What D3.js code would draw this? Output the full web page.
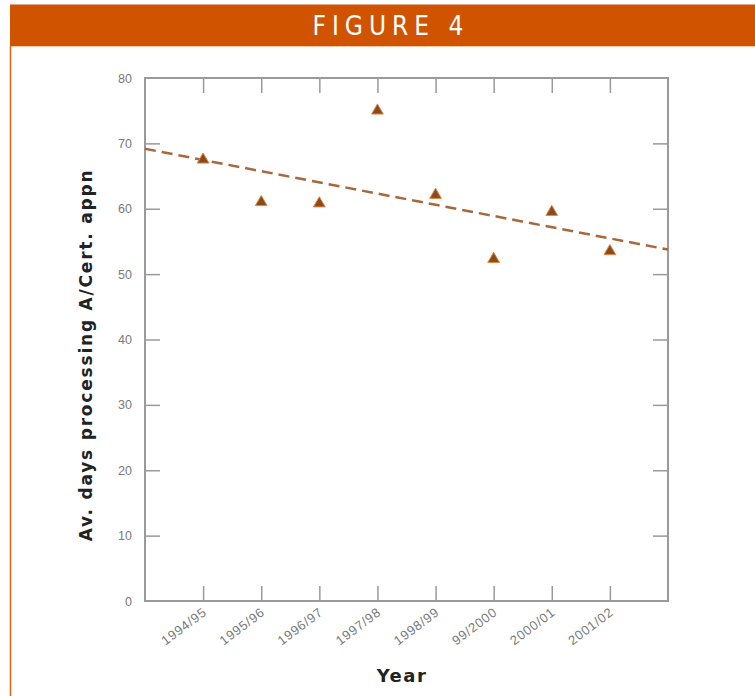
<!DOCTYPE html>
<html>
<head>
<meta charset="utf-8">
<script src="https://cdn.jsdelivr.net/npm/d3@7"></script>
<style>
  html, body { margin: 0; padding: 0; background: #fff; }
  svg { display: block; }
</style>
</head>
<body>
<svg id="chart" width="755" height="696"></svg>
<script>
// ---- data ----
const years = ["1994/95", "1995/96", "1996/97", "1997/98", "1998/99", "99/2000", "2000/01", "2001/02"];
const avgDays = [67.5, 61.0, 60.8, 75.0, 62.1, 52.3, 59.5, 53.5];
const yTicks = [0, 10, 20, 30, 40, 50, 60, 70, 80];
const title = "FIGURE 4";
const xTitle = "Year";
const yTitle = "Av. days processing A/Cert. appn";

(function () {
const svg = d3.select("#chart");
const W = 755, H = 696;

// header band
svg.append("rect").attr("x", 10).attr("y", 4.5).attr("width", W - 10).attr("height", 41.5)
  .attr("fill", "#d05300");
svg.append("line").attr("x1", 10).attr("x2", W).attr("y1", 46.5).attr("y2", 46.5)
  .attr("stroke", "#f3c6a4").attr("stroke-width", 1);
svg.append("line").attr("x1", 10.5).attr("x2", 10.5).attr("y1", 46).attr("y2", H)
  .attr("stroke", "#e06a10").attr("stroke-width", 1.6);
svg.append("text").attr("x", 391).attr("y", 35).attr("text-anchor", "middle")
  .attr("fill", "#fff").attr("font-family", "'DejaVu Sans Condensed', 'Open Sans', sans-serif")
  .attr("font-size", 26).attr("letter-spacing", 6).text(title);

// plot area
const pL = 145, pR = 668, pT = 78, pB = 601;
const x = d3.scaleLinear().domain([-1, years.length]).range([pL, pR]);
const y = d3.scaleLinear().domain([0, 80]).range([pB, pT]);

const axisColor = "#9a9a9a";
const tickLen = 15;

// frame
svg.append("rect").attr("x", pL).attr("y", pT).attr("width", pR - pL).attr("height", pB - pT)
  .attr("fill", "none").attr("stroke", axisColor).attr("stroke-width", 2);

const idx = d3.range(years.length);

// bottom axis (ticks inward)
const gB = svg.append("g").attr("transform", `translate(0,${pB})`)
  .call(d3.axisBottom(x).tickValues(idx).tickSize(-tickLen).tickFormat(i => years[i]));
gB.select(".domain").remove();
gB.selectAll(".tick line").attr("stroke", axisColor).attr("stroke-width", 1.5);
gB.selectAll(".tick text")
  .attr("fill", "#7a7a7a").attr("font-family", "'Liberation Sans', Arial, sans-serif").attr("font-size", 13)
  .attr("letter-spacing", 0.8)
  .attr("text-anchor", "end").attr("dy", 0).attr("y", 0)
  .attr("transform", "translate(4,13) rotate(-37)");

// top axis ticks
const gT = svg.append("g").attr("transform", `translate(0,${pT})`)
  .call(d3.axisTop(x).tickValues(idx).tickSize(-tickLen).tickFormat(""));
gT.select(".domain").remove();
gT.selectAll(".tick line").attr("stroke", axisColor).attr("stroke-width", 1.5);

// left axis
const gL = svg.append("g").attr("transform", `translate(${pL},0)`)
  .call(d3.axisLeft(y).tickValues(yTicks).tickSize(-tickLen).tickPadding(13));
gL.select(".domain").remove();
gL.selectAll(".tick line").attr("stroke", axisColor).attr("stroke-width", 1.5)
  .filter(d => d === 0 || d === 80).remove();
gL.selectAll(".tick text").attr("fill", "#7a7a7a")
  .attr("font-family", "'Liberation Sans', Arial, sans-serif").attr("font-size", 12.5);

// right axis ticks
const gR = svg.append("g").attr("transform", `translate(${pR},0)`)
  .call(d3.axisRight(y).tickValues(yTicks.filter(d => d > 0 && d < 80)).tickSize(-tickLen).tickFormat(""));
gR.select(".domain").remove();
gR.selectAll(".tick line").attr("stroke", axisColor).attr("stroke-width", 1.5);

// trend line (least squares)
const mx = d3.mean(idx), my = d3.mean(avgDays);
const slope = d3.sum(idx, i => (i - mx) * (avgDays[i] - my)) / d3.sum(idx, i => (i - mx) ** 2);
const icpt = my - slope * mx;
const xd = x.domain();
svg.append("line")
  .attr("x1", x(xd[0])).attr("y1", y(icpt + slope * xd[0]))
  .attr("x2", x(xd[1])).attr("y2", y(icpt + slope * xd[1]))
  .attr("stroke", "#a8683c").attr("stroke-width", 2.5).attr("stroke-dasharray", "11,6");

// points
const tri = d3.symbol().type(d3.symbolTriangle).size(60);
svg.append("g").selectAll("path").data(avgDays).join("path")
  .attr("d", tri)
  .attr("transform", (d, i) => `translate(${x(i)},${y(d)})`)
  .attr("fill", "#8a4a1e").attr("stroke", "#e08a40").attr("stroke-width", 1);

// axis titles
svg.append("text").attr("x", 402).attr("y", 682).attr("text-anchor", "middle")
  .attr("font-family", "'DejaVu Sans', sans-serif").attr("font-weight", "bold")
  .attr("font-size", 18).attr("letter-spacing", 1.5).attr("fill", "#222").text(xTitle);
svg.append("text").attr("transform", "translate(92,355) rotate(-90)").attr("text-anchor", "middle")
  .attr("font-family", "'DejaVu Sans', sans-serif").attr("font-weight", "bold")
  .attr("font-size", 17).attr("letter-spacing", 1.8).attr("fill", "#222").text(yTitle);
})();
</script>
</body>
</html>
